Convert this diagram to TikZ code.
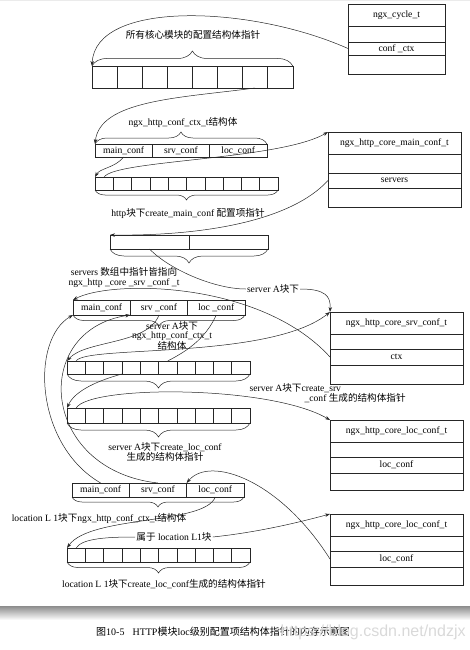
\documentclass[tikz,border=0pt]{standalone}
\usepackage{fontspec}
\setmainfont{Liberation Serif}
\newfontfamily\cjk[Scale=1.0]{Noto Sans CJK SC}
\newfontfamily\wmfont{Liberation Sans}
\newcommand{\zh}[1]{{\cjk #1}}
\usetikzlibrary{arrows.meta,positioning,decorations.pathreplacing}
\tikzset{
    cell/.style={draw,minimum width=18.3pt,minimum height=13pt,inner sep=0pt,outer sep=0pt,anchor=north west},
    field/.style={draw,minimum width=57.3pt,minimum height=13pt,inner sep=0pt,outer sep=0pt,anchor=north west},
    row/.style={draw,minimum width=133pt,minimum height=16pt,inner sep=0pt,outer sep=0pt},
    head/.style={row,minimum height=22pt,anchor=north west},
    ptr/.style={-{Stealth[length=5pt,width=3.5pt]}},
    curly/.style={decorate,decoration={brace,amplitude=#1}},
    curly/.default=12pt,
    tag/.style={fill=white,inner sep=1pt}
}

\begin{document}
\begin{tikzpicture}[x=1pt,y=-1pt,line width=0.5pt,draw=black!85,font=\fontsize{9.6}{10}\selectfont]
\useasboundingbox (0,0) rectangle (470,650);
\fill[black!8] (0,0) rectangle (470,1.5);

% ngx_cycle_t
\node[head,minimum width=97pt] (cyc) at (348,4) {ngx\_cycle\_t};
\node[row,minimum width=97pt,below=0pt of cyc] (cyc2) {};
\node[row,minimum width=97pt,minimum height=13pt,below=0pt of cyc2] (cycctx) {conf \_ctx};
\node[row,minimum width=97pt,minimum height=19pt,below=0pt of cycctx] (cyc4) {};

% core modules
\node[cell,minimum width=25.1pt,minimum height=22pt] (core1) at (92,66) {};
\foreach \i [remember=\i as \j (initially 1)] in {2,...,8}
    \node[cell,minimum width=25.1pt,minimum height=22pt,right=0pt of core\j] (core\i) {};
\draw[curly=15pt] (core1.north west) -- (core8.north east);
\node (coretxt) at (193,35) {\zh{所有核心模块的配置结构体指针}};
\draw[ptr] (cycctx.west) .. controls (250,5) and (95,0) .. (core1.north west);

% http ctx
\node[field] (hmain) at (95,144) {main\_conf};
\node[field,right=0pt of hmain] (hsrv) {srv\_conf};
\node[field,right=0pt of hsrv] (hloc) {loc\_conf};
\draw[curly=12pt] (hmain.north west) -- (hloc.north east);
\node (hctxtxt) at (183,122) {ngx\_http\_conf\_ctx\_t\zh{结构体}};
\draw[ptr] (core7.south) .. controls (180,98) and (100,100) .. (hmain.north west);

% http main_conf array
\node[cell] (marr1) at (95,177) {};
\foreach \i [remember=\i as \j (initially 1)] in {2,...,10}
    \node[cell,right=0pt of marr\j] (marr\i) {};
\draw[curly=10pt] (marr10.south east) -- (marr1.south west);
\node (marrtxt) at (188,213) {http\zh{块下}create\_main\_conf \zh{配置项指针}};
\draw[ptr] (hmain.south) .. controls (115,168) and (100,168) .. (marr1.north west);

% ngx_http_core_main_conf_t
\node[head] (hmc) at (328,132) {ngx\_http\_core\_main\_conf\_t};
\node[row,minimum height=19pt,below=0pt of hmc] (hmc2) {};
\node[row,minimum height=15pt,below=0pt of hmc2] (hmcsrv) {servers};
\node[row,minimum height=19pt,below=0pt of hmcsrv] (hmc4) {};
\draw[ptr] (marr1.north) .. controls (115,160) and (280,160) .. (hmc.north west);

% servers array
\node[cell,minimum width=79pt,minimum height=14pt] (srvs1) at (110,235) {};
\node[cell,minimum width=79pt,minimum height=14pt,right=0pt of srvs1] (srvs2) {};
\draw[curly=14pt] (srvs2.south east) -- (srvs1.south west);
\draw[ptr] (hmcsrv.west) .. controls (290,222) and (200,236) .. (srvs1.north west);
\node[align=center] (srvstxt) at (124,277) {servers \zh{数组中指针皆指向}\\ngx\_http \_core \_srv \_conf \_t};

% ngx_http_core_srv_conf_t
\node[head] (hsc) at (330,312) {ngx\_http\_core\_srv\_conf\_t};
\node[row,minimum height=15pt,below=0pt of hsc] (hsc2) {};
\node[row,minimum height=16pt,below=0pt of hsc2] (hscctx) {ctx};
\node[row,minimum height=19pt,below=0pt of hscctx] (hsc4) {};

\node[tag] (tagA) at (273,289) {server A\zh{块下}};
\draw (srvs1.south) .. controls (170,270) and (215,289) .. (tagA.west);
\draw[ptr] (tagA.east) .. controls (325,289) and (331,296) .. (hsc.north west);

% server A ctx
\node[field,minimum height=15pt] (amain) at (73,300) {main\_conf};
\node[field,minimum height=15pt,right=0pt of amain] (asrv) {srv \_conf};
\node[field,minimum height=15pt,right=0pt of asrv] (aloc) {loc \_conf};
\draw[curly=11pt] (aloc.south east) -- (amain.south west);
\draw[ptr] (hscctx.west) .. controls (260,280) and (110,280) .. (amain.north west);
\node[align=center,font=\fontsize{9.6}{9.5}\selectfont] (actxtxt) at (172,336) {server A\zh{块下}\\ngx\_http\_conf\_ctx\_t\\\zh{结构体}};

% server A srv array
\node[cell] (sarr1) at (67,361) {};
\foreach \i [remember=\i as \j (initially 1)] in {2,...,10}
    \node[cell,right=0pt of sarr\j] (sarr\i) {};
\draw[curly=14pt] (sarr10.south east) -- (sarr1.south west);
\draw[ptr] (asrv.south) .. controls (148,345) and (85,340) .. (sarr1.north west);
\draw[ptr] (sarr1.north) .. controls (85,345) and (270,360) .. (hsc.north west);
\node[align=left,anchor=west] (sarrtxt) at (246,393) {server A\zh{块下}create\_srv\\\hspace*{55pt}\_conf \zh{生成的结构体指针}};

% server A loc array
\node[cell,minimum height=15pt] (larr1) at (67,408) {};
\foreach \i [remember=\i as \j (initially 1)] in {2,...,10}
    \node[cell,minimum height=15pt,right=0pt of larr\j] (larr\i) {};
\draw[curly=14pt] (larr10.south east) -- (larr1.south west);
\draw (aloc.south) .. controls (205,340) and (185,352) .. (sarr6.north);
\draw[ptr] (sarr3.south east) .. controls (100,380) and (75,390) .. (larr1.north west);
\node[align=center] (larrtxt) at (165,452) {server A\zh{块下}create\_loc\_conf\\\zh{生成的结构体指针}};

% ngx_http_core_loc_conf_t (server A)
\node[head] (hlc) at (330,420) {ngx\_http\_core\_loc\_conf\_t};
\node[row,minimum height=15pt,below=0pt of hlc] (hlc2) {};
\node[row,minimum height=16pt,below=0pt of hlc2] (hlcloc) {loc\_conf};
\node[row,minimum height=17pt,below=0pt of hlcloc] (hlc4) {};
\draw[ptr] (larr1.north) .. controls (90,385) and (270,385) .. (hlc.north west);

% location L1 ctx
\node[field,minimum height=14pt] (lmain) at (72,483) {main\_conf};
\node[field,minimum height=14pt,right=0pt of lmain] (lsrv) {srv\_conf};
\node[field,minimum height=14pt,right=0pt of lsrv] (lloc) {loc\_conf};
\draw[curly=10pt] (lloc.south east) -- (lmain.south west);
\node (lctxtxt) at (99,518) {location L 1\zh{块下}ngx\_http\_conf\_ctx\_t\zh{结构体}};
\draw[ptr] (lmain.north) .. controls (35,445) and (30,340) .. (amain.south west);
\draw[ptr] (lsrv.north) .. controls (40,470) and (30,330) .. (asrv.south west);

% ngx_http_core_loc_conf_t (location L1)
\node[head] (hlx) at (330,514) {ngx\_http\_core\_loc\_conf\_t};
\node[row,minimum height=15pt,below=0pt of hlx] (hlx2) {};
\node[row,minimum height=16pt,below=0pt of hlx2] (hlxloc) {loc\_conf};
\node[row,minimum height=18pt,below=0pt of hlxloc] (hlx4) {};
\draw[ptr] (hlxloc.west) .. controls (280,480) and (210,455) .. (lloc.north west);

% location L1 loc array
\node[cell,minimum height=14pt] (parr1) at (67,548) {};
\foreach \i [remember=\i as \j (initially 1)] in {2,...,10}
    \node[cell,minimum height=14pt,right=0pt of parr\j] (parr\i) {};
\draw[curly=11pt] (parr10.south east) -- (parr1.south west);
\draw[ptr] (lloc.south) .. controls (205,525) and (90,515) .. (parr1.north west);
\node[tag] (tagL) at (174,537) {\zh{属于} location L1\zh{块}};
\draw (parr1.north) .. controls (82,538) and (110,537) .. (tagL.west);
\draw[ptr] (tagL.east) .. controls (260,532) and (300,522) .. (hlx.north west);
\node (parrtxt) at (164,584) {location L 1\zh{块下}create\_loc\_conf\zh{生成的结构体指针}};

% page edge and caption
\shade[top color=black!45,bottom color=white] (0,606) rectangle (470,620);
\node[font=\fontsize{10}{12}\selectfont] (cap) at (223,632) {\zh{图}10-5\hspace{8pt}HTTP\zh{模块}loc\zh{级别配置项结构体指针的内存示意图}};
\node[font=\wmfont\fontsize{16}{18}\selectfont,text=black!15,anchor=west] (wm) at (277,632) {https://blog.csdn.net/ndzjx};
\end{tikzpicture}
\end{document}
